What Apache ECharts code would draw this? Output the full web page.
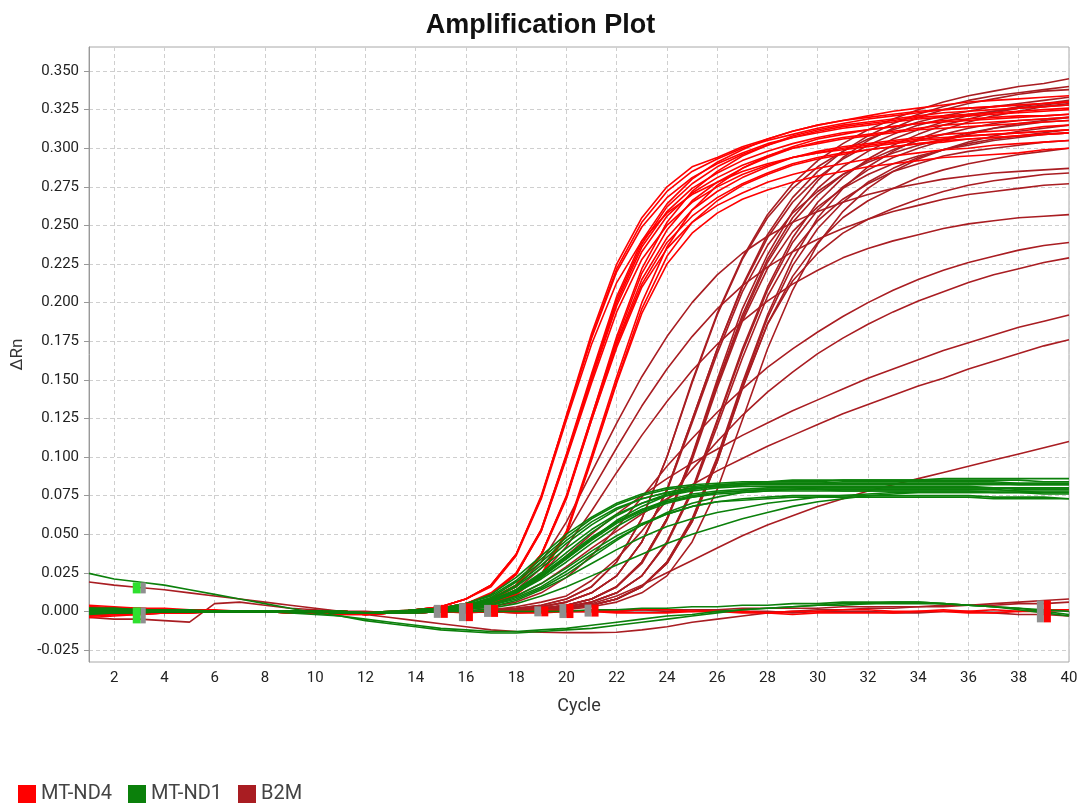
<!DOCTYPE html>
<html>
<head>
<meta charset="utf-8">
<title>Amplification Plot</title>
<script src="https://cdn.jsdelivr.net/npm/echarts@6/dist/echarts.min.js"></script>
<style>
  html, body { margin: 0; padding: 0; background: #ffffff; }
  #chart { width: 1081px; height: 805px; }
</style>
</head>
<body>
<div id="chart"></div>
<script>
// ---- data ---------------------------------------------------------------
const cycles = [1,2,3,4,5,6,7,8,9,10,11,12,13,14,15,16,17,18,19,20,21,22,23,24,25,26,27,28,29,30,31,32,33,34,35,36,37,38,39,40];

const xTickValues = [2,4,6,8,10,12,14,16,18,20,22,24,26,28,30,32,34,36,38,40];
const yTickValues = [-0.025,0,0.025,0.05,0.075,0.1,0.125,0.15,0.175,0.2,0.225,0.25,0.275,0.3,0.325,0.35];

const targetNames = ['MT-ND4', 'MT-ND1', 'B2M'];

// MT-ND4 wells: ΔRn per cycle (1..40)
const mtNd4Curves = [
  [.003,.002,.002,.001,.001,0,0,0,-.001,-.001, -.001,-.002,-.001,.001,.003,.008,.017,.037,.074,.127, .180,.225,.255,.275,.288,.294,.301,.306,.311,.315, .318,.321,.324,.326,.328,.330,.331,.332,.333,.334],
  [-.003,-.002,-.002,-.001,-.001,0,0,0,0,-.001, -.001,-.001,-.001,.001,.003,.008,.017,.037,.074,.126, .177,.220,.249,.268,.281,.290,.297,.303,.307,.310, .313,.315,.317,.319,.320,.321,.322,.323,.324,.325],
  [.001,.001,.001,0,0,0,0,0,0,0, -.001,-.001,-.001,.001,.003,.008,.016,.036,.073,.124, .173,.213,.240,.258,.270,.278,.285,.290,.294,.297, .299,.301,.303,.305,.306,.308,.309,.310,.311,.312],
  [.001,0,0,0,0,0,0,0,-.001,-.001, -.002,-.002,-.001,.001,.003,.008,.017,.037,.075,.126, .178,.222,.252,.272,.285,.293,.300,.305,.309,.313, .316,.319,.321,.323,.325,.326,.327,.328,.329,.330],
  [-.001,-.001,0,0,0,0,0,0,0,-.001, -.002,-.002,-.001,.001,.002,.005,.011,.024,.053,.102, .154,.204,.240,.264,.280,.291,.299,.306,.311,.315, .318,.320,.322,.324,.325,.326,.327,.328,.329,.330],
  [.002,.002,.001,.001,.001,0,0,0,0,-.001, -.001,-.001,0,.001,.002,.005,.011,.024,.052,.100, .150,.198,.233,.256,.271,.281,.289,.295,.300,.303, .306,.308,.310,.312,.313,.314,.315,.316,.317,.318],
  [-.002,-.002,-.001,-.001,0,0,0,0,0,0, -.001,-.001,-.001,0,.002,.005,.011,.024,.052,.099, .148,.194,.228,.250,.265,.275,.283,.289,.294,.297, .300,.302,.304,.306,.307,.308,.309,.310,.311,.312],
  [.004,.003,.002,.002,.001,.001,0,0,0,0, -.001,-.002,-.001,.001,.002,.005,.012,.025,.053,.101, .151,.200,.236,.259,.274,.284,.292,.298,.303,.307, .310,.312,.314,.316,.317,.318,.319,.320,.321,.322],
  [.002,.001,.001,0,0,0,0,0,0,0, -.001,-.001,-.001,.001,.002,.005,.011,.024,.053,.101, .152,.202,.238,.262,.277,.288,.296,.302,.307,.311, .314,.316,.318,.320,.321,.322,.323,.324,.325,.326],
  [-.004,-.003,-.002,-.001,-.001,0,0,0,0,0, -.001,-.001,-.001,0,.001,.003,.008,.017,.037,.074, .126,.178,.222,.252,.272,.285,.295,.302,.308,.312, .315,.317,.319,.321,.323,.324,.325,.326,.327,.328],
  [.001,.001,0,0,0,0,0,0,-.001,-.001, -.001,-.002,-.001,0,.001,.003,.008,.017,.037,.074, .125,.174,.215,.242,.260,.272,.281,.288,.294,.298, .301,.303,.305,.307,.309,.310,.311,.312,.314,.315],
  [.002,.001,.001,.001,0,0,0,0,0,0, 0,-.001,-.001,0,.001,.003,.007,.016,.036,.073, .124,.171,.210,.235,.252,.263,.271,.278,.283,.287, .290,.293,.295,.297,.299,.300,.302,.303,.304,.305],
  [-.002,-.001,-.001,-.001,0,0,0,0,0,0, -.001,-.001,-.001,0,.001,.003,.008,.017,.037,.075, .126,.176,.219,.247,.266,.278,.287,.294,.300,.304, .307,.309,.311,.313,.315,.316,.317,.318,.319,.320],
  [-.001,-.001,-.001,0,0,0,0,0,0,0, 0,-.001,-.001,0,.001,.003,.008,.017,.037,.074, .124,.173,.212,.239,.256,.268,.277,.284,.290,.294, .297,.299,.301,.303,.304,.306,.307,.308,.309,.310],
  [.003,.002,.001,.001,0,0,0,0,0,0, -.001,-.001,-.001,0,.001,.002,.005,.011,.024,.052, .101,.152,.200,.236,.260,.276,.287,.295,.301,.306, .309,.312,.314,.316,.318,.319,.320,.321,.321,.322],
  [-.003,-.002,-.001,-.001,-.001,0,0,0,0,0, 0,-.001,-.001,0,.001,.002,.005,.011,.024,.051, .099,.149,.196,.230,.252,.266,.276,.283,.289,.293, .296,.299,.301,.303,.305,.306,.307,.308,.309,.310],
  [0,0,0,0,0,0,0,0,0,-.001, -.001,-.002,-.001,0,.001,.002,.005,.011,.023,.050, .098,.148,.193,.225,.245,.258,.267,.273,.278,.282, .285,.288,.290,.292,.294,.295,.296,.297,.299,.300],
  // no amplification
  [-.002,-.002,-.001,-.001,0,0,0,0,0,0, 0,-.001,-.001,0,0,-.001,0,0,.001,0, 0,0,.001,.001,0,0,0,-.001,0,0, .001,.001,0,0,.001,0,.001,0,.001,.001],
  [.002,.002,.001,.001,.001,0,0,0,0,0, -.001,-.001,-.001,-.001,0,0,0,-.001,-.001,0, 0,-.001,-.001,-.001,0,0,-.001,-.001,-.002,-.001, -.001,-.001,-.001,0,0,-.001,-.001,0,0,.001]
];

// MT-ND1 wells
const mtNd1Curves = [
  [.002,.001,.001,.001,0,0,0,0,0,0, -.001,-.001,-.001,.001,.002,.005,.011,.022,.036,.050, .061,.070,.076,.080,.082,.083,.084,.084,.085,.085, .085,.085,.085,.085,.086,.086,.086,.086,.086,.086],
  [-.002,-.001,-.001,0,0,0,0,0,0,0, -.001,-.001,-.001,.001,.002,.004,.009,.019,.032,.046, .058,.067,.073,.077,.080,.081,.082,.083,.083,.083, .084,.084,.084,.084,.084,.084,.084,.083,.083,.083],
  [.001,.001,0,0,0,0,0,0,0,0, 0,-.001,-.001,0,.001,.004,.008,.016,.028,.041, .053,.063,.070,.075,.078,.080,.081,.081,.081,.081, .081,.081,.081,.081,.081,.081,.080,.080,.080,.080],
  [0,0,0,0,0,0,0,0,0,0, -.001,-.001,-.001,0,.001,.003,.007,.014,.024,.036, .048,.058,.066,.071,.074,.076,.077,.078,.078,.078, .078,.078,.078,.078,.078,.078,.077,.077,.077,.077],
  [-.001,-.001,0,0,0,0,0,0,0,0, 0,-.001,-.001,0,0,.002,.004,.008,.015,.024, .035,.046,.056,.064,.070,.074,.077,.078,.079,.080, .080,.080,.080,.080,.080,.080,.080,.080,.080,.080],
  [.001,0,0,0,0,0,0,0,0,0, -.001,-.001,-.001,0,0,.002,.004,.009,.016,.026, .037,.047,.056,.063,.068,.071,.073,.074,.075,.075, .075,.075,.075,.075,.075,.075,.074,.074,.074,.073],
  [.002,.002,.001,.001,0,0,0,0,0,0, -.001,-.001,-.001,0,.001,.003,.007,.014,.025,.038, .051,.062,.070,.076,.079,.081,.082,.083,.083,.083, .083,.083,.083,.083,.083,.083,.083,.083,.083,.083],
  [-.001,-.001,-.001,0,0,0,0,0,0,0, 0,-.001,0,0,.001,.003,.006,.012,.021,.032, .044,.055,.064,.070,.074,.077,.078,.079,.079,.079, .079,.079,.079,.079,.079,.079,.079,.078,.078,.078],
  [.001,.001,.001,0,0,0,0,0,0,0, -.001,-.001,-.001,.001,.002,.004,.008,.017,.030,.044, .056,.066,.073,.077,.080,.081,.082,.082,.082,.082, .082,.082,.082,.082,.082,.082,.082,.082,.082,.082],
  [-.001,0,0,0,0,0,0,0,0,0, -.001,-.001,-.001,0,0,.002,.005,.010,.018,.028, .039,.049,.057,.063,.068,.071,.072,.073,.074,.074, .074,.074,.074,.074,.074,.074,.073,.073,.073,.073],
  [.001,0,0,0,0,0,0,0,0,0, -.001,-.001,-.001,0,.001,.003,.006,.012,.022,.034, .047,.059,.068,.075,.079,.082,.083,.084,.084,.084, .085,.085,.085,.085,.085,.085,.085,.085,.084,.084],
  [-.001,0,0,0,0,0,0,0,0,0, -.001,-.001,-.001,0,.001,.003,.007,.013,.023,.035, .047,.058,.066,.072,.076,.078,.079,.080,.080,.080, .080,.080,.080,.080,.080,.080,.080,.079,.079,.079],
  [0,0,0,0,0,0,0,0,0,0, -.001,-.001,0,.001,.002,.005,.010,.020,.034,.048, .060,.069,.075,.079,.081,.082,.083,.083,.083,.083, .083,.083,.083,.083,.083,.083,.083,.082,.082,.082],
  [.001,.001,0,0,0,0,0,0,0,0, 0,-.001,-.001,0,.001,.003,.006,.013,.023,.034, .046,.057,.065,.071,.075,.077,.078,.079,.079,.079, .078,.078,.078,.078,.078,.078,.078,.078,.077,.077],
  [0,0,0,0,0,0,0,0,0,0, -.001,-.001,-.001,0,0,.001,.003,.007,.014,.022, .031,.040,.048,.055,.060,.064,.067,.070,.072,.074, .075,.076,.077,.077,.077,.077,.077,.077,.077,.077],
  [.001,0,0,0,0,0,0,0,0,0, -.001,-.001,-.001,-.001,0,0,.002,.005,.010,.016, .023,.030,.037,.044,.050,.055,.060,.064,.068,.071, .073,.075,.076,.077,.077,.077,.077,.077,.076,.076],
  // no amplification, drifting baseline
  [.0246,.021,.019,.017,.014,.011,.008,.005,.002,-.001, -.003,-.006,-.008,-.010,-.012,-.013,-.014,-.014,-.013,-.012, -.011,-.009,-.007,-.005,-.003,-.001,.001,.002,.003,.004, .005,.005,.006,.006,.005,.004,.003,.002,.001,0],
  [.002,.002,.001,.001,.001,0,0,0,-.001,-.002, -.003,-.005,-.007,-.009,-.011,-.012,-.013,-.013,-.012,-.011, -.009,-.007,-.005,-.003,-.002,0,.001,.002,.003,.004, .004,.005,.005,.005,.005,.004,.003,.002,0,-.002],
  [-.001,-.001,0,0,0,0,0,0,0,0, -.001,-.001,-.001,-.001,0,0,0,0,0,0, .001,.001,.002,.002,.003,.003,.004,.004,.005,.005, .006,.006,.006,.006,.005,.004,.003,.001,-.001,-.003]
];

// B2M wells
const b2mCurves = [
  [.001,.001,0,0,0,0,0,0,-.001,-.001, -.001,-.002,-.001,-.001,0,0,.001,.002,.004,.008, .016,.032,.060,.100,.149,.193,.229,.257,.277,.292, .303,.312,.319,.325,.330,.334,.337,.340,.342,.345],
  [-.002,-.001,-.001,-.001,0,0,0,0,0,0, -.001,-.001,-.001,0,0,0,.001,.002,.004,.008, .016,.032,.060,.100,.148,.192,.228,.255,.274,.288, .298,.306,.312,.317,.321,.324,.327,.329,.331,.333],
  [.003,.002,.002,.001,.001,0,0,0,0,0, -.001,-.001,-.001,0,0,0,.001,.001,.003,.006, .012,.023,.045,.079,.124,.170,.211,.244,.268,.285, .298,.308,.316,.322,.327,.331,.334,.336,.338,.340],
  [-.003,-.002,-.002,-.001,-.001,0,0,0,0,-.001, -.001,-.001,-.001,0,0,0,.001,.001,.003,.006, .012,.023,.045,.078,.122,.167,.207,.237,.258,.272, .283,.291,.297,.302,.306,.310,.313,.315,.317,.318],
  [.001,.001,.001,.001,0,0,0,0,0,0, -.001,-.001,-.001,0,0,0,.001,.001,.003,.006, .012,.023,.045,.079,.124,.170,.210,.242,.265,.281, .293,.302,.309,.315,.319,.322,.324,.326,.327,.328],
  [.001,0,0,0,0,0,0,0,0,0, -.001,-.001,-.001,-.001,0,0,0,.001,.002,.004, .008,.016,.032,.060,.100,.148,.192,.228,.255,.274, .288,.298,.306,.312,.317,.321,.324,.327,.329,.331],
  [.002,.001,.001,.001,0,0,0,0,0,0, 0,-.001,-.001,0,0,0,0,.001,.002,.004, .008,.016,.031,.059,.098,.145,.188,.222,.246,.262, .274,.283,.290,.295,.299,.302,.305,.307,.309,.310],
  [-.001,-.001,0,0,0,0,0,0,0,0, -.001,-.002,-.001,0,0,0,0,.001,.002,.004, .008,.016,.032,.060,.101,.150,.196,.231,.259,.279, .294,.305,.313,.320,.325,.329,.332,.335,.337,.338],
  [-.001,-.001,0,0,0,0,0,0,0,0, -.001,-.001,-.001,0,0,0,0,.001,.002,.004, .008,.016,.032,.060,.100,.147,.190,.226,.252,.270, .283,.292,.299,.305,.309,.313,.316,.318,.319,.320],
  [.002,.002,.001,.001,.001,0,0,0,0,0, -.001,-.001,-.001,0,0,0,0,.001,.001,.003, .006,.012,.023,.045,.079,.124,.170,.210,.242,.265, .281,.293,.302,.309,.315,.319,.323,.326,.328,.330],
  [-.002,-.001,-.001,-.001,0,0,0,0,0,0, 0,-.001,-.001,0,0,0,0,.001,.001,.003, .006,.012,.023,.044,.077,.120,.164,.204,.233,.253, .267,.277,.285,.290,.295,.298,.300,.302,.304,.305],
  [0,0,0,0,0,0,0,0,-.001,-.001, -.001,-.001,-.001,0,0,0,0,.001,.001,.003, .006,.012,.023,.045,.078,.123,.168,.208,.239,.260, .275,.286,.294,.300,.305,.309,.313,.316,.318,.320],
  [.001,.001,.001,0,0,0,0,0,0,0, 0,-.001,-.001,-.001,0,0,0,0,.001,.002, .004,.008,.016,.032,.060,.100,.148,.192,.228,.255, .274,.288,.298,.306,.312,.317,.321,.324,.327,.329],
  [-.001,-.001,-.001,0,0,0,0,0,0,0, -.001,-.001,-.001,0,0,0,0,0,.001,.002, .004,.008,.016,.031,.058,.097,.144,.186,.217,.239, .255,.266,.274,.281,.286,.290,.293,.296,.298,.300],
  [.002,.001,.001,0,0,0,0,0,0,0, -.001,-.001,0,0,0,0,0,0,.001,.002, .004,.008,.016,.032,.059,.099,.146,.190,.224,.248, .265,.278,.287,.294,.299,.304,.308,.311,.313,.315],
  [-.001,0,0,0,0,0,0,0,0,0, -.001,-.001,-.001,-.001,0,0,0,0,.001,.001, .003,.006,.012,.023,.045,.079,.124,.170,.208,.238, .259,.274,.285,.293,.299,.303,.306,.308,.310,.312],
  [.001,.001,0,0,0,0,0,0,0,0, 0,0,-.001,-.001,0,0,0,0,.001,.002, .004,.008,.016,.031,.058,.097,.145,.186,.214,.232, .245,.254,.261,.267,.272,.276,.279,.281,.283,.284],
  // slower, lower-plateau wells
  [.001,.001,0,0,0,0,0,0,0,0, -.001,-.001,-.001,0,.001,.003,.008,.016,.032,.058, .090,.122,.152,.178,.200,.218,.232,.243,.252,.259, .265,.270,.274,.277,.280,.282,.284,.285,.286,.287],
  [-.001,-.001,0,0,0,0,0,0,0,0, -.001,-.001,-.001,0,.001,.003,.007,.014,.028,.050, .078,.106,.133,.157,.178,.196,.211,.223,.233,.241, .248,.254,.259,.263,.267,.270,.272,.274,.276,.277],
  [.002,.001,.001,0,0,0,0,0,0,0, 0,-.001,-.001,0,0,.002,.005,.012,.024,.042, .065,.090,.114,.136,.156,.173,.188,.201,.212,.221, .229,.235,.240,.244,.248,.251,.253,.255,.256,.257],
  [-.001,0,0,0,0,0,0,0,0,0, -.001,-.001,-.001,0,0,.001,.003,.006,.012,.022, .036,.054,.074,.094,.112,.129,.144,.158,.170,.181, .191,.200,.208,.215,.221,.226,.230,.234,.237,.239],
  [.001,0,0,0,0,0,0,0,0,0, -.001,-.001,-.001,0,0,0,.001,.003,.006,.010, .020,.034,.052,.072,.092,.110,.127,.142,.155,.167, .177,.186,.194,.201,.207,.213,.218,.222,.226,.229],
  [.001,.001,0,0,0,0,0,0,0,0, 0,-.001,-.001,0,.001,.002,.006,.012,.022,.036, .050,.063,.075,.086,.096,.105,.114,.122,.130,.137, .144,.151,.157,.163,.169,.174,.179,.184,.188,.192],
  [-.001,-.001,0,0,0,0,0,0,0,0, -.001,-.001,-.001,0,0,.001,.004,.010,.018,.029, .041,.052,.063,.073,.082,.091,.099,.107,.114,.121, .128,.134,.140,.146,.151,.157,.162,.167,.172,.176],
  [.001,.001,.001,0,0,0,0,0,0,0, 0,-.001,-.001,-.001,0,0,0,0,0,.002, .005,.010,.017,.025,.033,.041,.049,.056,.062,.068, .073,.078,.082,.086,.090,.094,.098,.102,.106,.110],
  // no amplification
  [.019,.017,.0155,.014,.012,.010,.008,.006,.004,.002, 0,-.002,-.004,-.006,-.008,-.010,-.012,-.013,-.0135,-.0138, -.0138,-.0135,-.012,-.010,-.007,-.005,-.003,-.001,0,.001, .001,.002,.002,.003,.003,.004,.005,.006,.007,.008],
  [-.004,-.005,-.005,-.006,-.007,.005,.006,.004,.002,.001, 0,-.001,-.001,-.001,0,0,0,-.001,0,0, 0,.001,.001,.001,.001,.001,.002,.002,.002,.002, .003,.003,.003,.003,.004,.004,.004,.005,.005,.006],
  [.001,.001,.001,0,0,0,0,0,0,0, -.001,-.001,-.001,0,0,0,0,0,0,0, 0,0,.001,0,0,.001,0,0,-.001,0, 0,0,-.001,-.001,0,0,-.001,-.002,-.002,-.003]
];

// Baseline start / end flags (cycle, ΔRn)
const baselineFlagCycles = [15,16,17,19,20,21,39];
const baselineFlagLevels = [0,-0.0005,0.0003,0,0.0002,0.0005,0];
const nd1FlagCycles = [3,3];
const nd1FlagLevels = [0.0152,-0.0026];

// ---- styling ------------------------------------------------------------
const targetColors = { 'MT-ND4': '#ff0000', 'MT-ND1': '#0b800b', 'B2M': '#a91d22' };
const flagHeights = [13,18,12,10,14,12,22];
const nd1FlagHeights = [11,16];
const fontFamily = 'Roboto, "Liberation Sans", sans-serif';

function curveSeries(name, curves) {
  return curves.map(function (curve) {
    return {
      type: 'line',
      name: name,
      color: targetColors[name],
      data: cycles.map(function (c, i) { return [c, curve[i]]; }),
      showSymbol: false,
      symbol: 'none',
      silent: true,
      lineStyle: { width: 1.6, color: targetColors[name] },
      itemStyle: { color: targetColors[name] },
      emphasis: { disabled: true },
      z: 2
    };
  });
}

function flagSeries(cyclesList, levels, heights, color, width, offsetX) {
  return {
    type: 'scatter',
    symbol: 'rect',
    silent: true,
    symbolOffset: [offsetX, 0],
    itemStyle: { color: color, opacity: 1 },
    data: cyclesList.map(function (c, i) {
      return { value: [c, levels[i]], symbolSize: [width, heights[i]] };
    }),
    z: 5
  };
}

const series = []
  .concat(curveSeries('B2M', b2mCurves))
  .concat(curveSeries('MT-ND4', mtNd4Curves))
  .concat(curveSeries('MT-ND1', mtNd1Curves))
  .concat([
    flagSeries(baselineFlagCycles, baselineFlagLevels, flagHeights, '#8f8f8f', 7, -3.5),
    flagSeries(baselineFlagCycles, baselineFlagLevels, flagHeights, '#ff0000', 7, 3.5),
    flagSeries(nd1FlagCycles, nd1FlagLevels, nd1FlagHeights, '#2ee02e', 8, -2.5),
    flagSeries(nd1FlagCycles, nd1FlagLevels, nd1FlagHeights, '#8f8f8f', 5, 4)
  ]);

const chart = echarts.init(document.getElementById('chart'), null, { renderer: 'canvas' });
chart.setOption({
  animation: false,
  backgroundColor: '#ffffff',
  title: {
    text: 'Amplification Plot',
    left: 'center',
    top: 7,
    textStyle: { fontFamily: '"Liberation Sans", Arial, sans-serif', fontWeight: 'bold', fontSize: 27, color: '#111111' }
  },
  legend: {
    data: targetNames,
    left: 13,
    top: 779,
    icon: 'rect',
    itemWidth: 18,
    itemHeight: 18,
    itemGap: 16,
    selectedMode: false,
    textStyle: { fontFamily: fontFamily, fontSize: 20, color: '#444444' }
  },
  grid: {
    left: 89, right: 12, top: 47, bottom: 143,
    show: true, borderColor: '#a8a8a8', borderWidth: 1, backgroundColor: '#ffffff'
  },
  xAxis: {
    type: 'value',
    min: 1,
    max: 40,
    name: 'Cycle',
    nameLocation: 'middle',
    nameGap: 35,
    nameTextStyle: { fontFamily: fontFamily, fontSize: 18, color: '#333333' },
    axisLine: { show: true, lineStyle: { color: '#999999', width: 1 } },
    axisTick: { show: true, length: 5, lineStyle: { color: '#999999' }, customValues: xTickValues },
    axisLabel: { margin: 9, fontFamily: fontFamily, fontSize: 15, color: '#222222', customValues: xTickValues },
    splitLine: { show: true, lineStyle: { color: '#cfcfcf', type: [4, 3], width: 1 } }
  },
  yAxis: {
    type: 'value',
    min: -0.0328,
    max: 0.3656,
    name: 'ΔRn',
    nameLocation: 'middle',
    nameRotate: 90,
    nameGap: 62,
    nameTextStyle: { fontFamily: fontFamily, fontSize: 17, color: '#333333' },
    axisLine: { show: true, lineStyle: { color: '#999999', width: 1 } },
    axisTick: { show: true, length: 5, lineStyle: { color: '#999999' }, customValues: yTickValues },
    axisLabel: {
      margin: 10, fontFamily: fontFamily, fontSize: 15, color: '#222222', customValues: yTickValues,
      formatter: function (v) { return v.toFixed(3); }
    },
    splitLine: { show: true, lineStyle: { color: '#cfcfcf', type: [4, 3], width: 1 } }
  },
  series: series
});
</script>
</body>
</html>
